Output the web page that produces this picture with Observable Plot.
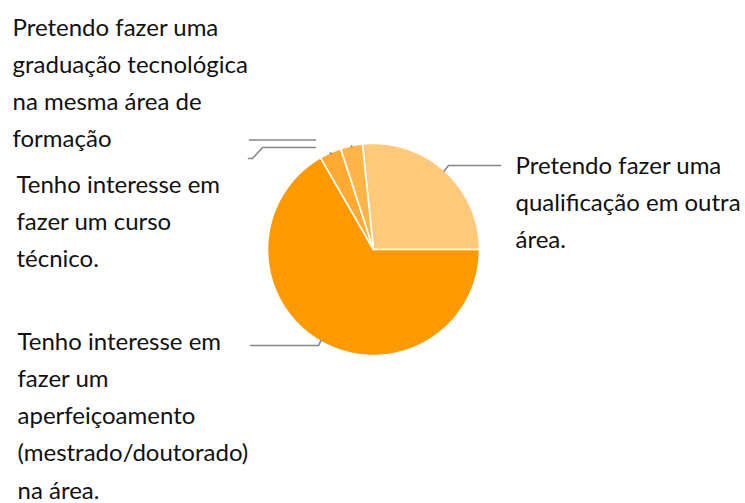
<!DOCTYPE html>
<html><head><meta charset="utf-8">
<script src="https://cdn.jsdelivr.net/npm/d3@7"></script>
<script src="https://cdn.jsdelivr.net/npm/@observablehq/plot@0.6"></script>
<style>body{margin:0;background:#fff} svg{display:block}</style>
</head><body><div id="chart"></div>
<script>
// ---- data ----
const categories = [
  "Pretendo fazer uma qualificação em outra área.",
  "Tenho interesse em fazer um aperfeiçoamento (mestrado/doutorado) na área.",
  "Tenho interesse em fazer um curso técnico.",
  "Pretendo fazer uma graduação tecnológica na mesma área de formação"
];
const counts = [8, 20, 1, 1];
const labelLines = [
  ["Pretendo fazer uma", "qualificação em outra", "área."],
  ["Tenho interesse em", "fazer um", "aperfeiçoamento", "(mestrado/doutorado)", "na área."],
  ["Tenho interesse em", "fazer um curso", "técnico."],
  ["Pretendo fazer uma", "graduação tecnológica", "na mesma área de", "formação"]
];
const colors = ["#FFC97C", "#FF9900", "#FFAA30", "#FFB547"];

// ---- layout ----
const W = 745, H = 503, cx = 373, cy = 249, R = 106;
const startDeg = -6;
const fontSize = 24, lineStep = 37.3;
const labelLayout = [
  {x: 515, y: 173, leader: [[448, 165], [500, 165]]},
  {x: 17, y: 349, leader: [[318, 345], [250, 345]]},
  {x: 16, y: 192, leader: [[315, 147], [262, 147], [252, 158], [248, 158]], gap: true},
  {x: 12, y: 35, leader: [[315, 139.5], [249, 139.5]], gap: true}
];
const ux = px => (px - cx) / R, uy = py => (cy - py) / R;

// ---- geometry from data ----
const arcs = d3.pie().sort(null).value(d => d)
  .startAngle(startDeg * Math.PI / 180).endAngle((startDeg + 360) * Math.PI / 180)(counts);

const slicePts = [];
arcs.forEach((a, i) => {
  const cat = categories[i];
  slicePts.push({cat, x: 0, y: 0});
  const n = Math.max(2, Math.ceil((a.endAngle - a.startAngle) / (Math.PI / 180)));
  for (let k = 0; k <= n; ++k) {
    const t = a.startAngle + (a.endAngle - a.startAngle) * k / n;
    slicePts.push({cat, x: Math.sin(t), y: Math.cos(t)});
  }
});

const leaderPts = [], edgeDots = [];
arcs.forEach((a, i) => {
  const m = (a.startAngle + a.endAngle) / 2;
  const e = {x: Math.sin(m) * 0.995, y: Math.cos(m) * 0.995};
  const L = labelLayout[i];
  if (L.gap) edgeDots.push(e);
  else leaderPts.push({id: i, ...e});
  L.leader.forEach(([px, py]) => leaderPts.push({id: i, x: ux(px), y: uy(py)}));
});

const textRows = [];
labelLines.forEach((lines, i) => {
  const L = labelLayout[i];
  lines.forEach((t, j) => textRows.push({t, x: ux(L.x), y: uy(L.y + j * lineStep)}));
});

const chart = Plot.plot({
  width: W, height: H, margin: 0,
  x: {domain: [-1, 1], range: [cx - R, cx + R], axis: null},
  y: {domain: [-1, 1], range: [cy + R, cy - R], axis: null},
  color: {domain: categories, range: colors},
  style: {background: "#fff", fontFamily: "Lato, sans-serif"},
  marks: [
    Plot.line(slicePts, {x: "x", y: "y", z: "cat", fill: "cat", stroke: "#fff", strokeWidth: 1.6, curve: "linear-closed"}),
    Plot.line(leaderPts, {x: "x", y: "y", z: "id", stroke: "#858585", strokeWidth: 1.6, curve: "linear"}),
    Plot.dot(edgeDots, {x: "x", y: "y", r: 1, fill: "#777", stroke: null}),
    Plot.text(textRows, {x: "x", y: "y", text: "t", textAnchor: "start", lineAnchor: "bottom", fontSize: fontSize, fill: "#111"})
  ]
});
document.getElementById("chart").appendChild(chart);
</script>
</body></html>
